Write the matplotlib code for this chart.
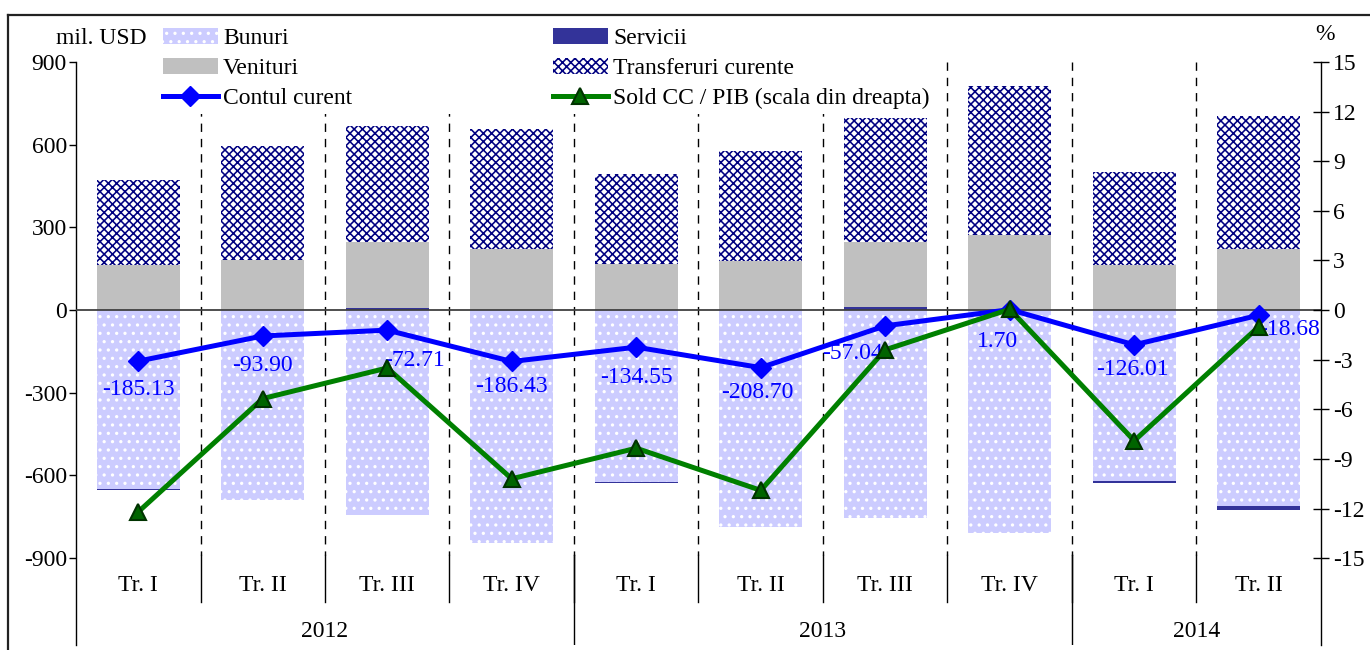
import numpy as np
import matplotlib
matplotlib.use("Agg")
import matplotlib.pyplot as plt
from matplotlib.patches import Patch
from matplotlib.lines import Line2D

plt.rcParams['font.family'] = ['Liberation Serif', 'DejaVu Serif']
plt.rcParams['font.size'] = 17
plt.rcParams['axes.unicode_minus'] = False
plt.rcParams['hatch.linewidth'] = 1.15

# quarters and years
categories = ['Tr. I', 'Tr. II', 'Tr. III', 'Tr. IV',
              'Tr. I', 'Tr. II', 'Tr. III', 'Tr. IV',
              'Tr. I', 'Tr. II']
years = ['2012', '2013', '2014']
year_sizes = [4, 4, 2]

# mil. USD
bunuri = [-650, -690, -744, -846, -624, -788, -755, -809, -620, -710]
servicii = [-4, 0, 8, 0, -4, 0, 12, 0, -7, -14]
venituri = [163, 181, 240, 221, 167, 178, 236, 272, 163, 221]
transferuri = [309, 414, 420, 436, 327, 399, 449, 541, 338, 483]
contul_curent = [-185.13, -93.90, -72.71, -186.43, -134.55,
                 -208.70, -57.04, 1.70, -126.01, -18.68]
# % of GDP (right axis)
sold_pib = [-12.2, -5.35, -3.5, -10.2, -8.35, -10.9, -2.4, 0.05, -7.9, -1.0]

left_ticks = [-900, -600, -300, 0, 300, 600, 900]
right_ticks = [-15, -12, -9, -6, -3, 0, 3, 6, 9, 12, 15]

c_bunuri = '#CCCCFF'
c_servicii = '#333399'
c_venituri = '#C0C0C0'
c_transf = '#000080'
c_cc = '#0000FF'
c_sold = '#008000'

fig = plt.figure(figsize=(13.7, 6.5), dpi=100)
ax = fig.add_axes([76 / 1370, 5 / 650, 1245 / 1370, 583 / 650])

x = np.arange(len(categories))
w = 0.67
serv = np.array(servicii, dtype=float)
serv_pos = np.clip(serv, 0, None)
serv_neg = np.clip(serv, None, 0)
ven = np.array(venituri, dtype=float)

ax.bar(x, bunuri, w, color=c_bunuri, edgecolor='white', linewidth=0, hatch='..', zorder=2)
ax.bar(x, serv_neg, w, bottom=bunuri, color=c_servicii, linewidth=0, zorder=2)
ax.bar(x, serv_pos, w, color=c_servicii, linewidth=0, zorder=2)
ax.bar(x, ven, w, bottom=serv_pos, color=c_venituri, linewidth=0, zorder=2)
ax.bar(x, transferuri, w, bottom=serv_pos + ven, color='white', edgecolor=c_transf,
       linewidth=0, hatch='xxxx', zorder=2)

ax.axhline(0, color='#404040', lw=1.3, zorder=3)

# category separators
for b in np.arange(0.5, len(categories) - 0.5, 1.0):
    ax.plot([b, b], [900, -890], color='black', lw=1, ls=(0, (6, 5)), zorder=1)
    ax.plot([b, b], [-890, -1060], color='black', lw=1, zorder=1)
edges = np.cumsum(year_sizes)[:-1] - 0.5
for b in edges:
    ax.plot([b, b], [-890, -1230], color='black', lw=1, zorder=1)

for i, lab in enumerate(categories):
    ax.text(i, -1000, lab, ha='center', va='center')
start = 0
for yr, n in zip(years, year_sizes):
    ax.text(start + (n - 1) / 2, -1165, yr, ha='center', va='center')
    start += n

ax.plot(x, contul_curent, color=c_cc, lw=3.6, marker='D', ms=10, zorder=4)

label_offsets = [(0, -28, 'center'), (0, -30, 'center'), (-3, -30, 'left'),
                 (0, -25, 'center'), (0, -30, 'center'), (-3, -25, 'center'),
                 (-2, -28, 'right'), (-12, -32, 'center'), (-2, -25, 'center'),
                 (0, -14, 'left')]
for i, v in enumerate(contul_curent):
    dx, dy, ha = label_offsets[i]
    ax.annotate(f'{v:.2f}', (x[i], v), xytext=(dx, dy), textcoords='offset pixels',
                ha=ha, va='center', color=c_cc, zorder=5)

ax.set_xlim(-0.5, len(categories) - 0.5)
ax.set_ylim(-1215, 900)
ax.set_yticks(left_ticks)
ax.set_xticks([])
ax.tick_params(axis='y', direction='out', length=5, width=1, pad=1.5)
for s in ['top', 'right', 'bottom']:
    ax.spines[s].set_visible(False)
ax.spines['left'].set_linewidth(1)

ax2 = ax.twinx()
ax2.plot(x, sold_pib, color=c_sold, lw=3.6, marker='^', ms=11,
         mfc='#006400', mec='#003300', mew=1.5, zorder=4)
ax2.set_ylim(-20.25, 15)
ax2.set_yticks(right_ticks)
ax2.tick_params(axis='y', direction='inout', length=11, width=1, pad=3)
for s in ['top', 'left', 'bottom']:
    ax2.spines[s].set_visible(False)
ax2.spines['right'].set_linewidth(1)

fig.text(147 / 1370, 1 - 38 / 650, 'mil. USD', ha='right', va='center')
fig.text(1325 / 1370, 1 - 35 / 650, '%', ha='center', va='center')

handles = [
    Patch(facecolor=c_bunuri, edgecolor='white', linewidth=0, hatch='..', label='Bunuri'),
    Patch(facecolor=c_venituri, linewidth=0, label='Venituri'),
    Line2D([], [], color=c_cc, lw=3.6, marker='D', ms=10, label='Contul curent'),
    Patch(facecolor=c_servicii, linewidth=0, label='Servicii'),
    Patch(facecolor='white', edgecolor=c_transf, linewidth=0, hatch='xxxx',
          label='Transferuri curente'),
    Line2D([], [], color=c_sold, lw=3.6, marker='^', ms=11, mfc='#006400',
           mec='#003300', mew=1.5, label='Sold CC / PIB (scala din dreapta)'),
]
leg = ax2.legend(handles=handles, ncol=2, loc='upper left',
                 bbox_to_anchor=(158 / 1370, 1 - 23 / 650), bbox_transform=fig.transFigure,
                 frameon=True, facecolor='white', edgecolor='none', framealpha=1,
                 handlelength=2.35, handleheight=0.7, handletextpad=0.2,
                 columnspacing=8.5, labelspacing=0.36, borderpad=0.2, borderaxespad=0)
leg.set_zorder(10)

# outer frame of the figure
fig.add_artist(Line2D([8 / 1370, 8 / 1370], [0, 1 - 15 / 650], color='#222222', lw=1.6))
fig.add_artist(Line2D([8 / 1370, 1], [1 - 15 / 650, 1 - 15 / 650], color='#222222', lw=1.6))

fig.savefig('out.png', dpi=100)
